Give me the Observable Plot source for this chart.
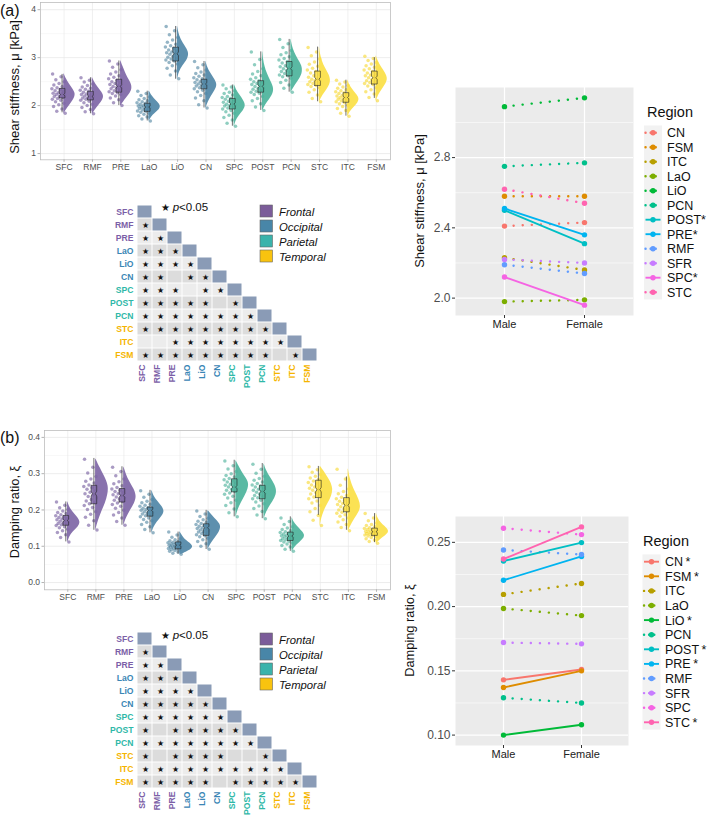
<!DOCTYPE html>
<html><head><meta charset="utf-8">
<script src="https://cdn.jsdelivr.net/npm/d3@7"></script>
<script src="https://cdn.jsdelivr.net/npm/@observablehq/plot@0.6"></script>
<style>
body{margin:0;background:#fff;font-family:"Liberation Sans",Arial,Helvetica,sans-serif}
#root{position:relative;width:709px;height:815px;overflow:hidden;background:#fff}
</style></head>
<body><div id="root"></div>
<script>
// ---------------- DATA ----------------
const regions = ["SFC","RMF","PRE","LaO","LiO","CN","SPC","POST","PCN","STC","ITC","FSM"];
const regionLobe = ["Frontal","Frontal","Frontal","Occipital","Occipital","Occipital","Parietal","Parietal","Parietal","Temporal","Temporal","Temporal"];
const lobes = ["Frontal","Occipital","Parietal","Temporal"];

const shearTicks = [1,2,3,4];
const shearMinor = [1.5,2.5,3.5];
const dampTicks = [0,0.1,0.2,0.3,0.4];
const dampMinor = [0.05,0.15,0.25,0.35];

// individual subject values (approximate, read from the cloud)
const shearPoints = [
 [1.84,1.88,1.93,1.98,2.02,2.05,2.08,2.11,2.13,2.15,2.17,2.19,2.20,2.22,2.23,2.24,2.26,2.27,2.29,2.31,2.33,2.35,2.37,2.40,2.43,2.46,2.50,2.54,2.60,2.66],
 [1.83,1.87,1.92,1.96,2.00,2.03,2.06,2.09,2.11,2.13,2.14,2.16,2.17,2.19,2.20,2.21,2.23,2.24,2.26,2.28,2.30,2.32,2.34,2.36,2.39,2.42,2.45,2.49,2.53,2.58],
 [2.00,2.06,2.12,2.16,2.20,2.23,2.25,2.27,2.29,2.31,2.33,2.35,2.37,2.39,2.40,2.42,2.44,2.46,2.48,2.50,2.53,2.56,2.59,2.62,2.66,2.70,2.75,2.80,2.87,2.93],
 [1.68,1.72,1.76,1.79,1.82,1.84,1.86,1.88,1.89,1.91,1.92,1.94,1.95,1.96,1.97,1.98,1.99,2.00,2.02,2.03,2.05,2.06,2.08,2.10,2.12,2.15,2.18,2.21,2.25,2.30],
 [2.56,2.64,2.72,2.78,2.83,2.87,2.90,2.93,2.95,2.97,2.99,3.01,3.03,3.05,3.07,3.08,3.10,3.12,3.14,3.16,3.19,3.22,3.25,3.28,3.32,3.37,3.42,3.48,3.56,3.65],
 [1.95,2.02,2.10,2.16,2.21,2.25,2.29,2.32,2.35,2.37,2.39,2.41,2.43,2.44,2.45,2.47,2.48,2.50,2.52,2.54,2.56,2.58,2.61,2.64,2.67,2.70,2.74,2.79,2.85,2.92],
 [1.57,1.63,1.70,1.75,1.80,1.84,1.87,1.90,1.93,1.95,1.97,1.99,2.00,2.02,2.03,2.05,2.07,2.09,2.11,2.13,2.15,2.17,2.19,2.22,2.25,2.28,2.31,2.35,2.39,2.43],
 [1.90,1.97,2.04,2.10,2.15,2.19,2.23,2.26,2.28,2.30,2.32,2.34,2.36,2.38,2.40,2.42,2.44,2.46,2.48,2.50,2.52,2.55,2.58,2.62,2.66,2.71,2.77,2.85,2.96,3.12],
 [2.28,2.36,2.43,2.48,2.53,2.57,2.60,2.62,2.64,2.67,2.69,2.71,2.73,2.75,2.77,2.79,2.81,2.83,2.86,2.89,2.92,2.95,2.98,3.02,3.06,3.10,3.15,3.21,3.29,3.38],
 [2.08,2.15,2.22,2.28,2.33,2.37,2.40,2.42,2.44,2.46,2.48,2.50,2.52,2.54,2.55,2.57,2.59,2.62,2.65,2.68,2.71,2.74,2.78,2.82,2.86,2.91,2.97,3.04,3.12,3.21],
 [1.78,1.84,1.90,1.94,1.98,2.01,2.04,2.06,2.08,2.10,2.12,2.13,2.15,2.16,2.17,2.18,2.20,2.21,2.23,2.25,2.27,2.29,2.31,2.33,2.36,2.39,2.42,2.45,2.49,2.53],
 [2.10,2.17,2.24,2.29,2.33,2.37,2.41,2.44,2.46,2.48,2.50,2.52,2.54,2.56,2.58,2.60,2.62,2.64,2.66,2.68,2.71,2.74,2.77,2.80,2.83,2.87,2.90,2.94,2.98,3.03]
];
// [whisker low, q1, median, q3, whisker high]
const shearBox = [
 [1.85,2.16,2.23,2.36,2.65],[1.83,2.12,2.19,2.30,2.58],[2.00,2.28,2.40,2.55,2.93],
 [1.68,1.88,1.97,2.05,2.30],[2.55,2.93,3.08,3.22,3.65],[1.95,2.35,2.45,2.55,2.92],
 [1.57,1.93,2.03,2.15,2.43],[1.90,2.28,2.40,2.52,3.12],[2.28,2.62,2.77,2.92,3.38],
 [2.08,2.42,2.55,2.72,3.22],[1.78,2.07,2.17,2.27,2.53],[2.15,2.45,2.58,2.72,3.00]
];
// relative density from min to max (9 levels)
const shearDensity = [
 [0.05,0.3,0.6,0.9,1.0,0.75,0.45,0.2,0.03],[0.05,0.3,0.6,0.9,1.0,0.75,0.45,0.2,0.03],
 [0.05,0.35,0.75,1.0,0.9,0.6,0.4,0.2,0.03],[0.03,0.2,0.5,0.9,1.0,0.75,0.45,0.2,0.03],
 [0.03,0.15,0.45,0.9,1.0,0.65,0.3,0.12,0.02],[0.03,0.2,0.45,0.8,1.0,0.75,0.4,0.15,0.02],
 [0.03,0.15,0.4,0.8,1.0,0.8,0.5,0.2,0.03],[0.03,0.35,0.85,1.0,0.7,0.4,0.2,0.08,0.02],
 [0.03,0.35,0.75,1.0,0.95,0.6,0.3,0.12,0.02],[0.03,0.3,0.75,1.0,0.85,0.5,0.25,0.1,0.02],
 [0.03,0.2,0.55,0.9,1.0,0.7,0.4,0.15,0.02],[0.03,0.2,0.5,0.85,1.0,0.8,0.45,0.2,0.03]
];

const dampPoints = [
 [0.112,0.124,0.132,0.138,0.143,0.147,0.151,0.154,0.157,0.159,0.161,0.163,0.165,0.167,0.169,0.171,0.173,0.175,0.177,0.179,0.181,0.184,0.187,0.190,0.193,0.197,0.201,0.206,0.213,0.222],
 [0.145,0.158,0.170,0.180,0.188,0.195,0.201,0.207,0.212,0.217,0.221,0.225,0.229,0.233,0.237,0.241,0.245,0.249,0.253,0.257,0.261,0.265,0.269,0.274,0.279,0.285,0.292,0.302,0.318,0.340],
 [0.158,0.168,0.178,0.186,0.193,0.199,0.205,0.210,0.215,0.219,0.223,0.227,0.230,0.233,0.236,0.239,0.242,0.245,0.248,0.251,0.254,0.258,0.262,0.267,0.272,0.278,0.285,0.294,0.306,0.318],
 [0.137,0.146,0.154,0.160,0.166,0.170,0.174,0.178,0.181,0.184,0.186,0.189,0.191,0.193,0.195,0.197,0.199,0.201,0.203,0.205,0.207,0.210,0.213,0.216,0.220,0.224,0.229,0.235,0.243,0.253],
 [0.078,0.081,0.084,0.086,0.088,0.090,0.091,0.093,0.094,0.095,0.097,0.098,0.099,0.100,0.101,0.102,0.103,0.104,0.106,0.107,0.108,0.110,0.111,0.113,0.115,0.118,0.121,0.125,0.131,0.139],
 [0.092,0.100,0.107,0.113,0.118,0.122,0.126,0.129,0.132,0.135,0.137,0.139,0.141,0.143,0.145,0.147,0.149,0.151,0.153,0.155,0.157,0.160,0.163,0.166,0.169,0.173,0.177,0.182,0.189,0.197],
 [0.181,0.192,0.203,0.212,0.220,0.227,0.233,0.238,0.243,0.247,0.251,0.254,0.257,0.260,0.263,0.265,0.268,0.271,0.274,0.277,0.280,0.283,0.287,0.291,0.295,0.300,0.306,0.313,0.322,0.335],
 [0.176,0.186,0.196,0.204,0.211,0.217,0.222,0.227,0.231,0.234,0.237,0.240,0.243,0.246,0.249,0.251,0.254,0.257,0.260,0.263,0.266,0.269,0.273,0.277,0.282,0.287,0.293,0.301,0.312,0.326],
 [0.086,0.092,0.098,0.102,0.106,0.109,0.112,0.114,0.116,0.118,0.120,0.121,0.123,0.124,0.126,0.127,0.129,0.130,0.132,0.134,0.136,0.138,0.140,0.143,0.146,0.150,0.154,0.160,0.168,0.178],
 [0.157,0.172,0.185,0.195,0.204,0.212,0.219,0.225,0.231,0.236,0.240,0.244,0.248,0.251,0.254,0.257,0.260,0.263,0.266,0.269,0.272,0.276,0.280,0.284,0.288,0.293,0.298,0.304,0.311,0.319],
 [0.143,0.152,0.160,0.167,0.173,0.178,0.183,0.187,0.191,0.194,0.197,0.200,0.203,0.206,0.209,0.212,0.215,0.218,0.221,0.224,0.227,0.231,0.235,0.240,0.245,0.251,0.258,0.268,0.285,0.312],
 [0.108,0.113,0.117,0.121,0.124,0.126,0.128,0.130,0.131,0.133,0.134,0.135,0.137,0.138,0.139,0.140,0.141,0.143,0.144,0.146,0.147,0.149,0.151,0.154,0.157,0.160,0.164,0.170,0.178,0.190]
];
const dampBox = [
 [0.112,0.158,0.171,0.185,0.222],[0.144,0.217,0.245,0.268,0.342],[0.158,0.222,0.240,0.259,0.319],
 [0.137,0.183,0.199,0.208,0.254],[0.078,0.093,0.103,0.112,0.139],[0.091,0.130,0.151,0.162,0.199],
 [0.181,0.250,0.263,0.286,0.337],[0.176,0.231,0.251,0.268,0.328],[0.086,0.116,0.128,0.139,0.181],
 [0.185,0.234,0.256,0.282,0.320],[0.144,0.195,0.213,0.234,0.291],[0.110,0.130,0.140,0.150,0.190]
];
const dampDensity = [
 [0.03,0.15,0.4,0.85,1.0,0.75,0.4,0.15,0.02],[0.02,0.2,0.45,0.75,0.95,1.0,0.7,0.35,0.03],
 [0.02,0.2,0.5,0.85,1.0,0.8,0.45,0.2,0.02],[0.02,0.15,0.4,0.75,1.0,0.8,0.45,0.15,0.02],
 [0.15,0.6,0.95,1.0,0.8,0.5,0.3,0.15,0.03],[0.03,0.2,0.45,0.75,0.95,1.0,0.7,0.35,0.05],
 [0.02,0.15,0.4,0.7,0.95,1.0,0.6,0.3,0.03],[0.02,0.2,0.5,0.85,1.0,0.85,0.5,0.2,0.02],
 [0.03,0.2,0.55,0.9,1.0,0.7,0.4,0.15,0.02],[0.02,0.12,0.3,0.6,0.9,1.0,0.8,0.45,0.05],
 [0.03,0.3,0.7,1.0,0.85,0.55,0.3,0.12,0.02],[0.03,0.3,0.7,1.0,0.85,0.5,0.25,0.1,0.02]
];

// pairwise significance, row r lists columns 0..r-1 ("1" = p<0.05)
const shearSig = ["","1","11","111","1111","11011","111011","1111101","11111111","111111111","0011111111","11111111101"];
const dampSig  = ["","1","11","111","1111","11111","111111","1011111","11111111","101111001","1111111111","11111011111"];

// sex comparison
const sexes = ["Male","Female"];
const sexRegions = ["CN","FSM","ITC","LaO","LiO","PCN","POST","PRE","RMF","SFR","SPC","STC"];
const shearMale   = [2.41,2.58,2.23,1.98,3.09,2.75,2.50,2.51,2.19,2.22,2.12,2.62];
const shearFemale = [2.43,2.58,2.16,1.99,3.14,2.77,2.31,2.36,2.14,2.20,1.96,2.54];
const shearSexSig = [false,false,false,false,false,false,true,true,false,false,true,false];
const dampMale    = [0.143,0.137,0.2095,0.1985,0.100,0.129,0.2355,0.2205,0.244,0.172,0.261,0.237];
const dampFemale  = [0.151,0.150,0.218,0.193,0.108,0.125,0.2498,0.239,0.2405,0.171,0.256,0.262];
const dampSexSig  = [true,true,false,false,true,false,true,true,false,false,false,true];
const shearSexTicks = [2.0,2.4,2.8];
const shearSexMinor = [2.2,2.6,3.0];
const dampSexTicks = [0.10,0.15,0.20,0.25];
const dampSexMinor = [0.125,0.175,0.225];

// ---------------- STYLE ----------------
const FONT = '"Liberation Sans", Arial, Helvetica, sans-serif';
const lobeViolin = {Frontal:"#7e66a6", Occipital:"#5087a7", Parietal:"#4cb39b", Temporal:"#fbdf45"};
const lobePoint  = {Frontal:"#56388a", Occipital:"#2c6b8e", Parietal:"#1f9e82", Temporal:"#f5d000"};
const lobeText   = {Frontal:"#7b5ea7", Occipital:"#3a86b5", Parietal:"#2fb8a8", Temporal:"#f5b500"};
const lobeKey    = {Frontal:"#7b5c99", Occipital:"#4886a8", Parietal:"#3ab3ab", Temporal:"#f9c30f"};
const hue12 = ["#F8766D","#DE8C00","#B79F00","#7CAE00","#00BA38","#00C08B","#00BFC4","#00B4F0","#619CFF","#C77CFF","#F564E3","#FF64B0"];

const root = document.getElementById("root");
function place(node, left, top, w, h) {
  const d = document.createElement("div");
  d.style.cssText = `position:absolute;left:${left}px;top:${top}px;width:${w}px;height:${h}px;`;
  d.appendChild(node); root.appendChild(d);
}
const jit = k => (k * 0.6180339887) % 1;

function violin(points, box, dens, o) {
  const vio = [];
  dens.forEach((w, i) => {
    const [lo, hi] = d3.extent(points[i]);
    w.forEach((wk, k) => vio.push({i, y: lo + (hi - lo) * k / (w.length - 1), w: wk}));
  });
  const pts = points.flatMap((arr, i) => arr.map((v, k) => ({i, v, k})));
  const boxes = box.map(([lo, q1, med, q3, hi], i) => ({i, lo, q1, med, q3, hi}));
  const bc = i => i - 0.07, bh = 0.1;
  const notch = boxes.flatMap(b => {
    const c = bc(b.i), n = 0.13 * (b.q3 - b.q1);
    return [[c-bh,b.q1],[c+bh,b.q1],[c+bh,b.med-n],[c+bh*0.5,b.med],[c+bh,b.med+n],[c+bh,b.q3],
            [c-bh,b.q3],[c-bh,b.med+n],[c-bh*0.5,b.med],[c-bh,b.med-n],[c-bh,b.q1]]
      .map(([x, y]) => ({i: b.i, x, y}));
  });
  const idx = d3.range(regions.length);
  return Plot.plot({
    width: 400, height: o.height, marginLeft: o.mL, marginRight: 10, marginTop: o.mT, marginBottom: o.mB,
    style: {fontFamily: FONT, fontSize: "8.5px", color: "#4d4d4d", background: "transparent"},
    x: {domain: [-0.83, 11.5], label: null},
    y: {domain: o.yDomain, label: null},
    color: {type: "identity"},
    marks: [
      Plot.ruleY(o.minor, {stroke: "#f0f0f0", strokeWidth: 0.5}),
      Plot.ruleY(o.ticks, {stroke: "#e0e0e0", strokeWidth: 0.6}),
      Plot.ruleX(idx, {stroke: "#e6e6e6", strokeWidth: 0.6}),
      Plot.dot(pts, {x: d => d.i + 0.04 - 0.48 * jit(d.k), y: "v", r: 1.75, fill: d => lobePoint[regionLobe[d.i]], fillOpacity: 0.5}),
      Plot.areaX(vio, {y: "y", x1: d => d.i - 0.01, x2: d => d.i - 0.01 + o.W * d.w, z: "i",
        fill: d => lobeViolin[regionLobe[d.i]], fillOpacity: 0.92, curve: "basis"}),
      Plot.ruleX(boxes, {x: d => bc(d.i), y1: "lo", y2: "hi", stroke: "#333", strokeWidth: 0.7}),
      Plot.line(notch, {x: "x", y: "y", z: "i", fill: d => lobeViolin[regionLobe[d.i]], fillOpacity: 0.85, stroke: "#222", strokeWidth: 0.6}),
      Plot.frame({stroke: "#bdbdbd", strokeWidth: 0.8}),
      Plot.axisX(idx, {tickFormat: i => regions[i], tickSize: 2.5, tickPadding: 2, stroke: "#b3b3b3", fill: "#4d4d4d", fontSize: 8.5, label: null}),
      Plot.axisY(o.ticks, {tickFormat: o.fmt, tickSize: 2.5, tickPadding: 2, stroke: "#b3b3b3", fill: "#4d4d4d", fontSize: 8.5, label: null})
    ]
  });
}

function heat(sig, o) {
  const cells = [];
  regions.forEach((r, ri) => { for (let ci = 0; ci <= ri; ci++) cells.push({r, c: regions[ci], ri, ci}); });
  const stars = [];
  sig.forEach((s, ri) => [...s].forEach((ch, ci) => { if (ch === "1") stars.push({r: regions[ri], c: regions[ci]}); }));
  const col = d => lobeText[regionLobe[regions.indexOf(d)]];
  return Plot.plot({
    width: 330, height: o.height, marginLeft: 136, marginRight: 13, marginTop: o.mT, marginBottom: o.mB,
    style: {fontFamily: FONT, background: "transparent", overflow: "visible"},
    x: {type: "band", domain: regions, padding: 0, axis: null},
    y: {type: "band", domain: regions, padding: 0, axis: null},
    color: {type: "identity"},
    marks: [
      Plot.cell(cells, {x: "c", y: "r", inset: 0.5,
        fill: d => d.ri === d.ci ? "#8a9bb6" : (d.ri % 2 ? "#dcdcdc" : "#ececec")}),
      Plot.text(stars, {x: "c", y: "r", text: d => "★", fontSize: 8, fill: "#111"}),
      Plot.text(regions, {y: d => d, frameAnchor: "left", textAnchor: "end", dx: -3, fill: col, fontWeight: "bold", fontSize: 8.6}),
      Plot.text(regions, {x: d => d, frameAnchor: "bottom", textAnchor: "end", rotate: -90, dy: 2, fill: col, fontWeight: "bold", fontSize: 8.6})
    ]
  });
}

function sexPlot(male, female, sig, o) {
  const data = sexRegions.flatMap((r, i) => [
    {r, i, sex: "Male", v: male[i], sig: sig[i]},
    {r, i, sex: "Female", v: female[i], sig: sig[i]}]);
  const ext = d3.extent(data, d => d.v), pad = (ext[1] - ext[0]) * 0.05;
  return Plot.plot({
    width: o.width, height: o.height, marginLeft: o.mL, marginRight: o.mR, marginTop: o.mT, marginBottom: o.mB,
    style: {fontFamily: FONT, background: "transparent", color: "#4d4d4d"},
    x: {type: "point", domain: sexes, padding: 0.6, label: null},
    y: {domain: [ext[0] - pad, ext[1] + pad], label: null},
    color: {type: "identity"},
    marks: [
      Plot.frame({fill: "#ebebeb", stroke: null}),
      Plot.ruleY(o.minor, {stroke: "#fff", strokeWidth: 0.6}),
      Plot.ruleY(o.ticks, {stroke: "#fff", strokeWidth: 1.2}),
      Plot.ruleX(sexes, {stroke: "#fff", strokeWidth: 1.2}),
      Plot.line(data.filter(d => !d.sig), {x: "sex", y: "v", z: "r", stroke: d => hue12[d.i], strokeWidth: 2.4,
        strokeDasharray: "0.1,9", strokeLinecap: "round"}),
      Plot.line(data.filter(d => d.sig), {x: "sex", y: "v", z: "r", stroke: d => hue12[d.i], strokeWidth: 1.9}),
      Plot.dot(data, {x: "sex", y: "v", fill: d => hue12[d.i], r: 2.7}),
      Plot.axisX(sexes, {tickSize: 3, tickPadding: 2, stroke: "#333", fill: "#222", fontSize: 11, label: null}),
      Plot.axisY(o.ticks, {tickFormat: o.fmt, tickSize: 3, tickPadding: 2, stroke: "#333", fill: "#4d4d4d", fontSize: 12, label: null})
    ]
  });
}

place(violin(shearPoints, shearBox, shearDensity, {height: 178, mL: 40, mT: 2, mB: 18.7, yDomain: [0.87, 4.15], ticks: shearTicks, minor: shearMinor, W: 0.42, fmt: d3.format("d")}), 0, 0, 400, 178);
place(violin(dampPoints, dampBox, dampDensity, {height: 185, mL: 44, mT: 5, mB: 20.7, yDomain: [-0.02, 0.419], ticks: dampTicks, minor: dampMinor, W: 0.47, fmt: d3.format(".1f")}), 0, 425, 400, 185);
place(heat(shearSig, {height: 195, mT: 8, mB: 28}), 0, 195, 330, 195);
place(heat(dampSig, {height: 193, mT: 8.5, mB: 26}), 0, 622, 330, 193);
place(sexPlot(shearMale, shearFemale, shearSexSig, {width: 300, height: 260, mL: 105, mR: 17, mT: 7, mB: 25, ticks: shearSexTicks, minor: shearSexMinor, fmt: d3.format(".1f")}), 350, 80, 300, 260);
place(sexPlot(dampMale, dampFemale, dampSexSig, {width: 300, height: 280, mL: 105, mR: 22, mT: 16, mB: 35, ticks: dampSexTicks, minor: dampSexMinor, fmt: d3.format(".2f")}), 350, 500, 300, 280);

// ---------------- ANNOTATIONS / LEGENDS ----------------
const svg = d3.select(root).append("svg").attr("width", 709).attr("height", 815)
  .style("position", "absolute").style("left", 0).style("top", 0).style("pointer-events", "none")
  .style("font-family", FONT);

function txt(x, y, s, size, opts = {}) {
  const t = svg.append("text").attr("x", x).attr("y", y).attr("font-size", size).attr("fill", opts.fill || "#111").text(s);
  if (opts.anchor) t.attr("text-anchor", opts.anchor);
  if (opts.italic) t.attr("font-style", "italic");
  return t;
}
function vtitle(x, y, s, size) {
  svg.append("text").attr("transform", `translate(${x},${y}) rotate(-90)`).attr("text-anchor", "middle")
    .attr("font-size", size).attr("fill", "#111").text(s);
}
txt(0, 15.5, "(a)", 16);
txt(0, 442.5, "(b)", 16);
vtitle(18.5, 87, "Shear stiffness, μ [kPa]", 13);
vtitle(18.5, 512, "Damping ratio, ξ", 12.8);
vtitle(424, 201, "Shear stiffness, μ [kPa]", 13);
vtitle(414, 630.5, "Damping ratio, ξ", 12.8);

function pNote(x, y) {
  const t = svg.append("text").attr("x", x).attr("y", y).attr("font-size", 11.5).attr("fill", "#111");
  t.append("tspan").attr("font-size", 9.5).text("★ ");
  t.append("tspan").attr("font-style", "italic").text("p");
  t.append("tspan").text("<0.05");
}
pNote(161, 211);
pNote(161, 639);

function lobeLegend(y0) {
  lobes.forEach((l, k) => {
    const y = y0 + 15 * k;
    svg.append("rect").attr("x", 260).attr("y", y).attr("width", 12.5).attr("height", 12)
      .attr("fill", lobeKey[l]).attr("stroke", "#666").attr("stroke-width", 0.6);
    txt(279, y + 10.5, l, 11.3, {italic: true});
  });
}
lobeLegend(205);
lobeLegend(633);

function regionLegend(o, sig, starSep) {
  txt(o.x, o.yTitle, "Region", 14.5);
  svg.append("rect").attr("x", o.kx - 9).attr("y", o.y0 - o.step / 2).attr("width", 18)
    .attr("height", o.step * sexRegions.length).attr("fill", "#f2f2f2");
  sexRegions.forEach((r, k) => {
    const cy = o.y0 + o.step * k;
    const ln = svg.append("line").attr("x1", o.kx - 7.5).attr("x2", o.kx + 7.5).attr("y1", cy).attr("y2", cy)
      .attr("stroke", hue12[k]).attr("stroke-width", sig[k] ? 1.9 : 2.4);
    if (!sig[k]) ln.attr("stroke-dasharray", "0.1,5").attr("stroke-linecap", "round");
    svg.append("circle").attr("cx", o.kx).attr("cy", cy).attr("r", 2.7).attr("fill", hue12[k]);
    txt(o.lx, cy + 4.4, r + (sig[k] ? starSep + "*" : ""), 12.5);
  });
}
regionLegend({x: 647, yTitle: 117, kx: 653, y0: 132.7, step: 14.5, lx: 667}, shearSexSig, "");
regionLegend({x: 643, yTitle: 546, kx: 651.5, y0: 561.7, step: 14.6, lx: 665}, dampSexSig, "\u2009");
</script>
</body></html>
